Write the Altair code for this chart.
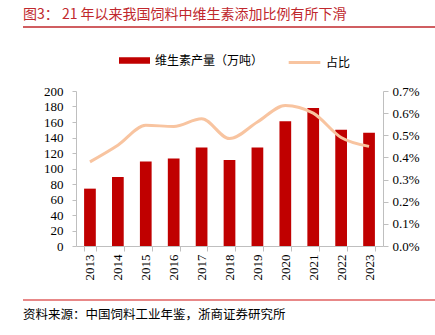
import altair as alt
import pandas as pd

years = ["2013", "2014", "2015", "2016", "2017", "2018", "2019", "2020", "2021", "2022", "2023"]
output = [74, 89, 109, 113, 127, 111, 127, 161, 178, 150, 146]
share_pct = [0.38, 0.455, 0.545, 0.54, 0.575, 0.485, 0.56, 0.635, 0.60, 0.49, 0.45]
left_ticks = [0, 20, 40, 60, 80, 100, 120, 140, 160, 180, 200]
right_ticks = [0.0, 0.001, 0.002, 0.003, 0.004, 0.005, 0.006, 0.007]

bar_name = "维生素产量（万吨）"
line_name = "占比"
title_text = "图3：  21 年以来我国饲料中维生素添加比例有所下滑"
source_text = "资料来源：中国饲料工业年鉴，浙商证券研究所"

df = pd.DataFrame({
    "year": years,
    "output": output,
    "share": [v / 100 for v in share_pct],
    "bar_s": [bar_name] * len(years),
    "line_s": [line_name] * len(years),
})

NUM_FONT = "Liberation Serif"
CJK_FONT = "Noto Sans CJK SC"
BAR_COLOR = "#C00000"
LINE_COLOR = "#F8C4A0"
AXIS_GRAY = "#BFBFBF"

x_enc = alt.X(
    "year:N",
    sort=years,
    scale=alt.Scale(paddingInner=0.58, paddingOuter=0.29),
    axis=alt.Axis(
        title=None, labelAngle=-90, labelFont=NUM_FONT, labelFontSize=13,
        labelColor="#000000", labelPadding=3, tickBand="extent", tickSize=5,
        tickColor=AXIS_GRAY, domainColor=AXIS_GRAY,
    ),
)

bars = alt.Chart(df).mark_bar().encode(
    x=x_enc,
    y=alt.Y(
        "output:Q",
        scale=alt.Scale(domain=[0, 200], nice=False),
        axis=alt.Axis(
            title=None, values=left_ticks, grid=False, labelFont=NUM_FONT,
            labelFontSize=13, labelColor="#000000", tickSize=4, labelPadding=9,
            tickColor=AXIS_GRAY, domainColor=AXIS_GRAY,
        ),
    ),
    color=alt.Color(
        "bar_s:N",
        scale=alt.Scale(domain=[bar_name], range=[BAR_COLOR]),
        legend=alt.Legend(
            title=None, orient="none", legendX=43, legendY=-46,
            symbolType="M-1,-0.21H1V0.21H-1Z", symbolSize=961,
            symbolStrokeWidth=0, labelFont=CJK_FONT, labelFontSize=12,
            labelColor="#000000", labelOffset=5, labelLimit=300, padding=0,
        ),
    ),
)

line = alt.Chart(df).mark_line(interpolate="monotone", strokeWidth=3).encode(
    x=x_enc,
    y=alt.Y(
        "share:Q",
        scale=alt.Scale(domain=[0, 0.007], nice=False),
        axis=alt.Axis(
            title=None, orient="right", values=right_ticks, format=".1%",
            grid=False, labelFont=NUM_FONT, labelFontSize=13,
            labelColor="#000000", tickSize=5, labelPadding=4,
            tickColor=AXIS_GRAY, domainColor=AXIS_GRAY,
        ),
    ),
    stroke=alt.Stroke(
        "line_s:N",
        scale=alt.Scale(domain=[line_name], range=[LINE_COLOR]),
        legend=alt.Legend(
            title=None, orient="none", legendX=211, legendY=-46,
            symbolType="stroke", symbolSize=1000, symbolStrokeWidth=3,
            labelFont=CJK_FONT, labelFontSize=12, labelColor="#000000",
            labelOffset=4, labelLimit=300, padding=0,
        ),
    ),
)

title_df = pd.DataFrame({"t": [title_text]})
source_df = pd.DataFrame({"t": [source_text]})

title_mark = alt.Chart(title_df).mark_text(
    align="left", baseline="alphabetic", font=CJK_FONT, fontSize=14,
    color="#C0282D",
).encode(text="t:N", x=alt.value(-53), y=alt.value(-72))

top_rule = alt.Chart(title_df).mark_rule(color="#C0282D", strokeWidth=1.5).encode(
    x=alt.value(-53), x2=alt.value(359), y=alt.value(-64)
)

bottom_rule = alt.Chart(source_df).mark_rule(color="#E06060", strokeWidth=1.5).encode(
    x=alt.value(-53), x2=alt.value(359), y=alt.value(209)
)

source_mark = alt.Chart(source_df).mark_text(
    align="left", baseline="middle", font=CJK_FONT, fontSize=12.5,
    color="#000000",
).encode(text="t:N", x=alt.value(-53), y=alt.value(224))

chart = (
    alt.layer(bars, line, title_mark, top_rule, bottom_rule, source_mark)
    .resolve_scale(y="independent", color="independent", stroke="independent")
    .properties(
        width=307, height=155,
        autosize=alt.AutoSizeParams(type="none"),
        padding={"left": 76, "top": 91, "right": 52, "bottom": 89},
        background="#FFFFFF",
    )
    .configure_view(strokeWidth=0)
)

chart.save("out.html", embed_options={"renderer": "svg", "actions": False})
